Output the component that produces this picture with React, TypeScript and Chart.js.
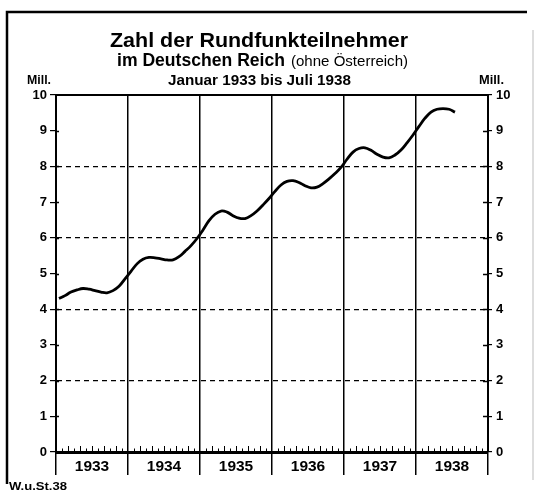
import React, { useEffect, useRef } from 'react';
import { Chart, registerables } from 'chart.js';

Chart.register(...registerables);

const titleLine1 = 'Zahl der Rundfunkteilnehmer';
const titleLine2a = 'im Deutschen Reich';
const titleLine2b = '(ohne Österreich)';
const subtitleText = 'Januar 1933 bis Juli 1938';
const unitLabel = 'Mill.';
const sourceLabel = 'W.u.St.38';

const years = ['1933', '1934', '1935', '1936', '1937', '1938'];
const yTickValues = [0, 1, 2, 3, 4, 5, 6, 7, 8, 9, 10];

// Rundfunkteilnehmer in Millionen, monatlich Januar 1933 – Juli 1938
const listeners = [
  4.30, 4.38, 4.48, 4.54, 4.58, 4.56, 4.52, 4.48, 4.46, 4.52, 4.64, 4.85,
  5.06, 5.27, 5.40, 5.45, 5.44, 5.41, 5.38, 5.38, 5.47, 5.62, 5.78, 5.98,
  6.22, 6.48, 6.66, 6.75, 6.72, 6.62, 6.55, 6.54, 6.62, 6.75, 6.92, 7.10,
  7.30, 7.48, 7.58, 7.60, 7.55, 7.46, 7.40, 7.42, 7.52, 7.65, 7.80, 7.97,
  8.20, 8.40, 8.50, 8.52, 8.45, 8.34, 8.26, 8.24, 8.32, 8.46, 8.66, 8.88,
  9.12, 9.35, 9.52, 9.60, 9.62, 9.60, 9.52,
];

const MONTHS = years.length * 12;
const FONT = '"Liberation Sans", Arial, sans-serif';

// draws text at a given font size, squeezed horizontally to a given width
function fitText(ctx: CanvasRenderingContext2D, text: string, x: number, y: number, width: number, size: number, weight: string) {
  ctx.font = `${weight} ${size}px ${FONT}`;
  ctx.textAlign = 'left';
  ctx.textBaseline = 'alphabetic';
  const w = ctx.measureText(text).width;
  ctx.save();
  ctx.translate(x, y);
  ctx.scale(width / w, 1);
  ctx.fillText(text, 0, 0);
  ctx.restore();
}

const decorPlugin = {
  id: 'decor',
  afterDraw(chart: any) {
    const { ctx, chartArea, scales } = chart;
    const { left, right, top, bottom } = chartArea;
    ctx.save();
    ctx.strokeStyle = '#000';
    ctx.fillStyle = '#000';
    // outer frame
    ctx.lineWidth = 2.5;
    ctx.beginPath();
    ctx.moveTo(7, 484);
    ctx.lineTo(7, 12);
    ctx.lineTo(527, 12);
    ctx.stroke();
    ctx.strokeStyle = '#bbb';
    ctx.lineWidth = 1;
    ctx.beginPath();
    ctx.moveTo(533, 30);
    ctx.lineTo(533, 480);
    ctx.stroke();
    ctx.strokeStyle = '#000';
    // top line of plot
    ctx.lineWidth = 2;
    ctx.beginPath();
    ctx.moveTo(left - 1, top);
    ctx.lineTo(right + 1, top);
    ctx.stroke();
    // monthly ticks
    ctx.lineWidth = 1;
    for (let m = 1; m < MONTHS; m++) {
      if (m % 12 === 0) continue;
      const px = Math.round(scales.x.getPixelForValue(m)) + 0.5;
      const len = m % 2 === 0 ? 6 : 3.5;
      ctx.beginPath();
      ctx.moveTo(px, bottom);
      ctx.lineTo(px, bottom - len);
      ctx.stroke();
    }
    // inner parts of y ticks
    ctx.lineWidth = 1.5;
    for (const v of yTickValues) {
      if (v === 0 || v === 10) continue;
      const py = Math.round(scales.y.getPixelForValue(v)) + 0.5;
      ctx.beginPath();
      ctx.moveTo(left, py);
      ctx.lineTo(left + 3, py);
      ctx.moveTo(right - 5, py);
      ctx.lineTo(right, py);
      ctx.stroke();
    }
    // titles
    fitText(ctx, titleLine1, 110, 47, 298, 21, 'bold');
    fitText(ctx, titleLine2a, 117, 66, 168, 18, 'bold');
    fitText(ctx, titleLine2b, 291, 66, 117, 14.5, 'normal');
    fitText(ctx, subtitleText, 168, 85, 183, 14, 'bold');
    // unit labels
    fitText(ctx, unitLabel, 27, 84, 24, 13.5, 'bold');
    fitText(ctx, unitLabel, 479, 84, 25, 13.5, 'bold');
    // source
    fitText(ctx, sourceLabel, 9, 490, 58, 11, 'bold');
    ctx.restore();
  },
};

export default function App() {
  const canvasRef = useRef<HTMLCanvasElement | null>(null);

  useEffect(() => {
    const canvas = canvasRef.current;
    if (!canvas) return;
    const points = listeners.map((v, i) => ({ x: i + 0.5, y: v }));
    const chart = new Chart(canvas, {
      type: 'line',
      data: {
        datasets: [
          {
            data: points,
            borderColor: '#000',
            borderWidth: 2.8,
            pointRadius: 0,
            tension: 0.4,
            fill: false,
          },
        ],
      },
      options: {
        animation: false,
        responsive: false,
        devicePixelRatio: 1,
        layout: { padding: { top: 95, left: 0, right: 0, bottom: 0 } },
        plugins: {
          legend: { display: false },
          tooltip: { enabled: false },
          title: { display: false },
        },
        scales: {
          x: {
            type: 'linear',
            min: 0,
            max: MONTHS,
            afterBuildTicks(scale: any) {
              const t = [];
              for (let v = 0; v <= MONTHS; v += 6) t.push({ value: v });
              scale.ticks = t;
            },
            afterFit(scale: any) {
              scale.height = 40;
            },
            ticks: {
              autoSkip: false,
              maxRotation: 0,
              padding: -18,
              color: '#000',
              font: { family: FONT, size: 15.5, weight: 'bold' },
              callback: (value: any) => {
                const v = Number(value);
                return v % 12 === 6 ? years[(v - 6) / 12] : '';
              },
            },
            grid: {
              color: (c: any) => (c.tick && c.tick.value % 12 === 0 ? '#000' : 'rgba(0,0,0,0)'),
              tickColor: (c: any) => (c.tick && c.tick.value % 12 === 0 ? '#000' : 'rgba(0,0,0,0)'),
              lineWidth: 1.5,
              tickLength: 23,
              drawTicks: true,
            },
            border: { display: true, color: '#000', width: 3 },
          },
          y: {
            type: 'linear',
            position: 'left',
            min: 0,
            max: 10,
            afterBuildTicks(scale: any) {
              scale.ticks = yTickValues.map((v) => ({ value: v }));
            },
            afterFit(scale: any) {
              scale.width = 56;
            },
            ticks: {
              padding: 3,
              color: '#000',
              font: { family: FONT, size: 13, weight: 'bold' },
            },
            grid: {
              color: (c: any) => {
                const v = c.tick ? c.tick.value : -1;
                return v > 0 && v < 10 && v % 2 === 0 ? '#000' : 'rgba(0,0,0,0)';
              },
              tickColor: '#000',
              lineWidth: 1.2,
              tickLength: 6,
            },
            border: { display: true, color: '#000', width: 2, dash: [5, 4] },
          },
          y2: {
            type: 'linear',
            position: 'right',
            min: 0,
            max: 10,
            afterBuildTicks(scale: any) {
              scale.ticks = yTickValues.map((v) => ({ value: v }));
            },
            afterFit(scale: any) {
              scale.width = 46;
            },
            ticks: {
              padding: 4,
              color: '#000',
              font: { family: FONT, size: 13, weight: 'bold' },
            },
            grid: {
              drawOnChartArea: false,
              tickColor: '#000',
              lineWidth: 1.2,
              tickLength: 4,
            },
            border: { display: true, color: '#000', width: 2 },
          },
        },
      },
      plugins: [decorPlugin],
    });
    return () => chart.destroy();
  }, []);

  return (
    <div style={{ position: 'fixed', left: 0, top: 0, width: 534, height: 492, background: '#fff' }}>
      <canvas ref={canvasRef} width={534} height={492} style={{ display: 'block' }} />
    </div>
  );
}
